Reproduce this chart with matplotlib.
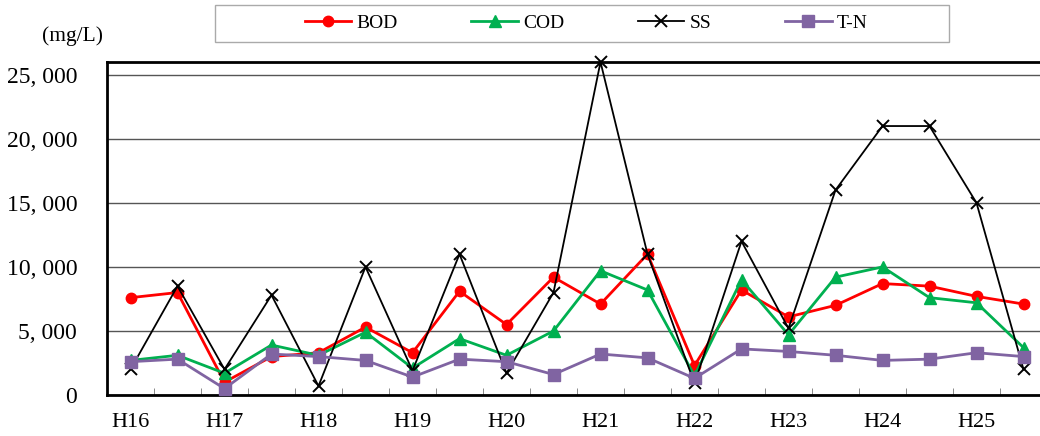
import matplotlib.pyplot as plt
from matplotlib.patches import Rectangle
from matplotlib.ticker import FuncFormatter, MultipleLocator
import numpy as np

plt.rcParams['font.family'] = ['Liberation Serif', 'DejaVu Serif']

# categories: one label per year, every other point unlabeled
years = ['H16', 'H17', 'H18', 'H19', 'H20', 'H21', 'H22', 'H23', 'H24', 'H25']
n_points = 20

bod = [7600, 8000, 1000, 3000, 3300, 5300, 3300, 8100, 5500, 9200,
       7100, 11000, 2300, 8200, 6100, 7000, 8700, 8500, 7700, 7100]
cod = [2700, 3100, 1700, 3900, 3100, 4900, 2100, 4400, 3100, 5000,
       9700, 8200, 1500, 9000, 4700, 9200, 10000, 7600, 7200, 3700]
ss = [2000, 8500, 2000, 7800, 700, 10000, 1900, 11000, 1700, 8000,
      26000, 11000, 900, 12000, 5200, 16000, 21000, 21000, 15000, 2000]
tn = [2600, 2800, 500, 3200, 3000, 2700, 1400, 2800, 2600, 1600,
      3200, 2900, 1300, 3600, 3400, 3100, 2700, 2800, 3300, 3000]

fig = plt.figure(figsize=(10.4, 4.36), dpi=100)
ax = fig.add_axes([107 / 1040, 41 / 436, 940 / 1040, 333 / 436])

x = np.arange(n_points)
l1, = ax.plot(x, bod, color='#FF0000', lw=2, marker='o', ms=7.5, label='BOD', zorder=3, clip_on=False)
l2, = ax.plot(x, cod, color='#00B050', lw=2, marker='^', ms=8.5, label='COD', zorder=3, clip_on=False)
l3, = ax.plot(x, ss, color='black', lw=1.3, marker='x', ms=9, mew=1.4, label='SS', zorder=4, clip_on=False)
l4, = ax.plot(x, tn, color='#8064A2', lw=2, marker='s', ms=8.5, label='T-N', zorder=5, clip_on=False)

ax.set_xlim(-0.5, n_points - 0.5)
ax.set_ylim(0, 26000)

ax.yaxis.set_major_locator(MultipleLocator(5000))
ax.yaxis.set_major_formatter(FuncFormatter(lambda v, p: f'{int(v):,}'.replace(',', ', ')))
ax.grid(axis='y', color='#555555', lw=1)
ax.set_axisbelow(True)
ax.tick_params(axis='y', length=0, pad=21.5, labelsize=17)

ax.set_xticks(x[::2])
ax.set_xticklabels(years)
ax.set_xticks(np.arange(0.5, n_points - 0.5), minor=True)
ax.tick_params(axis='x', which='major', length=0, pad=13, labelsize=16)
ax.tick_params(axis='x', which='minor', direction='in', length=5, color='#777777')

for side in ['left', 'top', 'bottom', 'right']:
    ax.spines[side].set_linewidth(2)

fig.text(42 / 1040, 1 - 36 / 436, '(mg/L)', fontsize=15.5, va='center', ha='left')

# legend frame drawn separately so the entries can sit in the middle of a wide box
fig.patches.append(Rectangle((215 / 1040, 1 - 42 / 436), 734 / 1040, 37 / 436,
                             transform=fig.transFigure, fill=False,
                             edgecolor='#AAAAAA', lw=1))
fig.legend(handles=[l1, l2, l3, l4], loc='center', ncol=4,
           bbox_to_anchor=(586 / 1040, 1 - 23.5 / 436),
           fontsize=14, frameon=False, handlelength=2.4, handletextpad=0.25,
           columnspacing=3.8, borderaxespad=0, borderpad=0)

fig.savefig('out.png', dpi=100)
